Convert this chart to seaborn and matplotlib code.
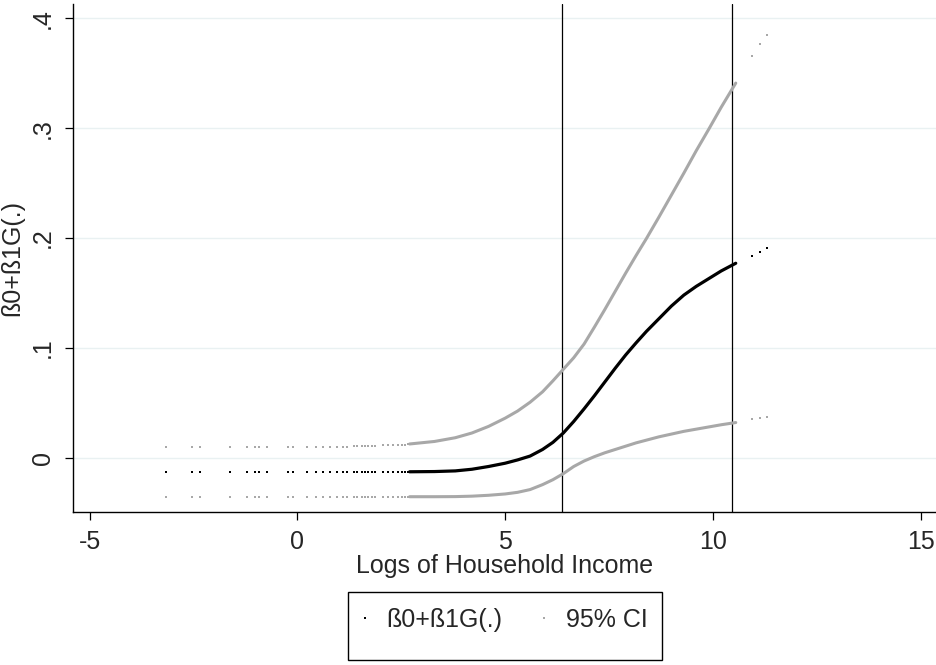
import matplotlib
matplotlib.use("Agg")
import matplotlib.pyplot as plt
from matplotlib.lines import Line2D
from matplotlib.patches import Rectangle
import seaborn as sns

# sparse low-income points (drawn as single markers)
sparse_x = [-3.17, -2.54, -2.34, -1.62, -1.22, -1.02, -0.92, -0.74, -0.22, -0.11,
            0.22, 0.45, 0.61, 0.78, 0.95, 1.09, 1.19, 1.35, 1.44, 1.55,
            1.63, 1.71, 1.79, 1.87, 2.07, 2.19, 2.31, 2.43, 2.51, 2.59, 2.67]
sparse_fit = [-0.0134, -0.0134, -0.0134, -0.0134, -0.0134, -0.0134, -0.0134, -0.0134, -0.0133, -0.0133,
              -0.0133, -0.0133, -0.0133, -0.0133, -0.0132, -0.0132, -0.0132, -0.0132, -0.0132, -0.0131,
              -0.0131, -0.0131, -0.0131, -0.0131, -0.0130, -0.0130, -0.0130, -0.0129, -0.0129, -0.0129, -0.0128]
sparse_hi = [0.0093, 0.0094, 0.0094, 0.0095, 0.0095, 0.0096, 0.0096, 0.0096, 0.0097, 0.0097,
             0.0098, 0.0099, 0.0099, 0.0100, 0.0101, 0.0102, 0.0102, 0.0104, 0.0104, 0.0106,
             0.0106, 0.0107, 0.0108, 0.0109, 0.0112, 0.0113, 0.0115, 0.0117, 0.0118, 0.0120, 0.0122]
sparse_lo = [-0.0356, -0.0356, -0.0356, -0.0356, -0.0356, -0.0356, -0.0356, -0.0356, -0.0356, -0.0356,
             -0.0356, -0.0356, -0.0356, -0.0356, -0.0356, -0.0356, -0.0356, -0.0356, -0.0356, -0.0356,
             -0.0356, -0.0356, -0.0356, -0.0356, -0.0355, -0.0355, -0.0355, -0.0355, -0.0355, -0.0355, -0.0355]

# dense part (points merge into a line)
dense_x = [2.7, 3.3, 3.8, 4.2, 4.6, 5.0, 5.3, 5.6, 5.9, 6.15, 6.4, 6.65, 6.9,
           7.15, 7.4, 7.65, 7.9, 8.15, 8.4, 8.7, 9.0, 9.3, 9.6, 9.9, 10.2, 10.55]
dense_fit = [-0.0128, -0.0126, -0.0120, -0.0105, -0.0080, -0.0050, -0.0020, 0.0015, 0.0075, 0.0140,
             0.0225, 0.0330, 0.0445, 0.0565, 0.0690, 0.0815, 0.0935, 0.1045, 0.1150, 0.1265,
             0.1380, 0.1480, 0.1560, 0.1630, 0.1700, 0.1770]
dense_hi = [0.0125, 0.0148, 0.0182, 0.0225, 0.0285, 0.0360, 0.0425, 0.0505, 0.0600, 0.0700,
            0.0805, 0.0910, 0.1035, 0.1190, 0.1350, 0.1515, 0.1680, 0.1840, 0.1995, 0.2190,
            0.2390, 0.2590, 0.2795, 0.2990, 0.3190, 0.3410]
dense_lo = [-0.0355, -0.0355, -0.0354, -0.0350, -0.0342, -0.0330, -0.0315, -0.0290, -0.0245, -0.0200,
            -0.0145, -0.0080, -0.0030, 0.0010, 0.0045, 0.0075, 0.0105, 0.0135, 0.0160, 0.0190,
            0.0215, 0.0240, 0.0260, 0.0280, 0.0300, 0.0320]

# a few isolated points past the upper cut-off
tail_x = [10.93, 11.13, 11.31]
tail_fit = [0.184, 0.187, 0.191]
tail_hi = [0.3655, 0.3766, 0.385]
tail_lo = [0.0352, 0.036, 0.0373]

vline_x = [6.37, 10.47]
xticks = [-5, 0, 5, 10, 15]
yticks = [0, 0.1, 0.2, 0.3, 0.4]
ytick_labels = ["0", ".1", ".2", ".3", ".4"]

GRAY = "#a8a8a8"
FS = 18

sns.set_style("white")
plt.rcParams["font.family"] = ["Liberation Sans", "DejaVu Sans"]
plt.rcParams["font.size"] = FS

fig = plt.figure(figsize=(9.36, 6.65), dpi=100)
ax = fig.add_axes([0.0783, 0.2301, 0.9217, 0.7639])

for y in yticks:
    ax.axhline(y, color="#e9f1f2", lw=1.0, zorder=0)

for xv in vline_x:
    ax.axvline(xv, color="black", lw=0.9, zorder=1)

for ys, col in [(sparse_hi, GRAY), (sparse_lo, GRAY), (sparse_fit, "black")]:
    sns.scatterplot(x=sparse_x, y=ys, color=col, marker="s", s=3.5, linewidth=0, ax=ax, zorder=3)
for ys, col in [(tail_hi, GRAY), (tail_lo, GRAY), (tail_fit, "black")]:
    sns.scatterplot(x=tail_x, y=ys, color=col, marker="s", s=3.5, linewidth=0, ax=ax, zorder=3)

sns.lineplot(x=dense_x, y=dense_hi, color=GRAY, lw=2.2, sort=False, estimator=None, ax=ax, zorder=2)
sns.lineplot(x=dense_x, y=dense_lo, color=GRAY, lw=2.2, sort=False, estimator=None, ax=ax, zorder=2)
sns.lineplot(x=dense_x, y=dense_fit, color="black", lw=2.3, sort=False, estimator=None, ax=ax, zorder=3)

ax.set_xlim(-5.395, 15.37)
ax.set_ylim(-0.0494, 0.413)
ax.set_xticks(xticks)
ax.set_xticklabels([str(t) for t in xticks])
ax.set_yticks(yticks)
ax.set_yticklabels(ytick_labels, rotation=90, va="center")
ax.tick_params(axis="both", direction="out", length=6, width=0.9, color="black",
               labelsize=FS, pad=7, left=True, bottom=True)
ax.set_xlabel("Logs of Household Income", fontsize=FS, labelpad=0)
ax.set_ylabel("ß0+ß1G(.)", fontsize=FS, labelpad=5)

sns.despine(ax=ax)
for side in ["left", "bottom"]:
    ax.spines[side].set_color("black")
    ax.spines[side].set_linewidth(1.0)

# legend below the plot
handles = [
    Line2D([], [], ls="none", marker="s", ms=1.8, color="black", mew=0),
    Line2D([], [], ls="none", marker="s", ms=1.8, color=GRAY, mew=0),
]
fig.legend(handles, ["ß0+ß1G(.)", "95% CI"], loc="center", ncol=2, frameon=False,
           bbox_to_anchor=(501 / 936, 1 - 620 / 665), fontsize=FS,
           handlelength=0.8, handletextpad=0.45, columnspacing=1.3)
fig.patches.append(Rectangle((348 / 936, 1 - 660 / 665), 314 / 936, 68 / 665,
                             transform=fig.transFigure, fill=False, ec="black", lw=1.0))

fig.savefig("out.png", dpi=100)
